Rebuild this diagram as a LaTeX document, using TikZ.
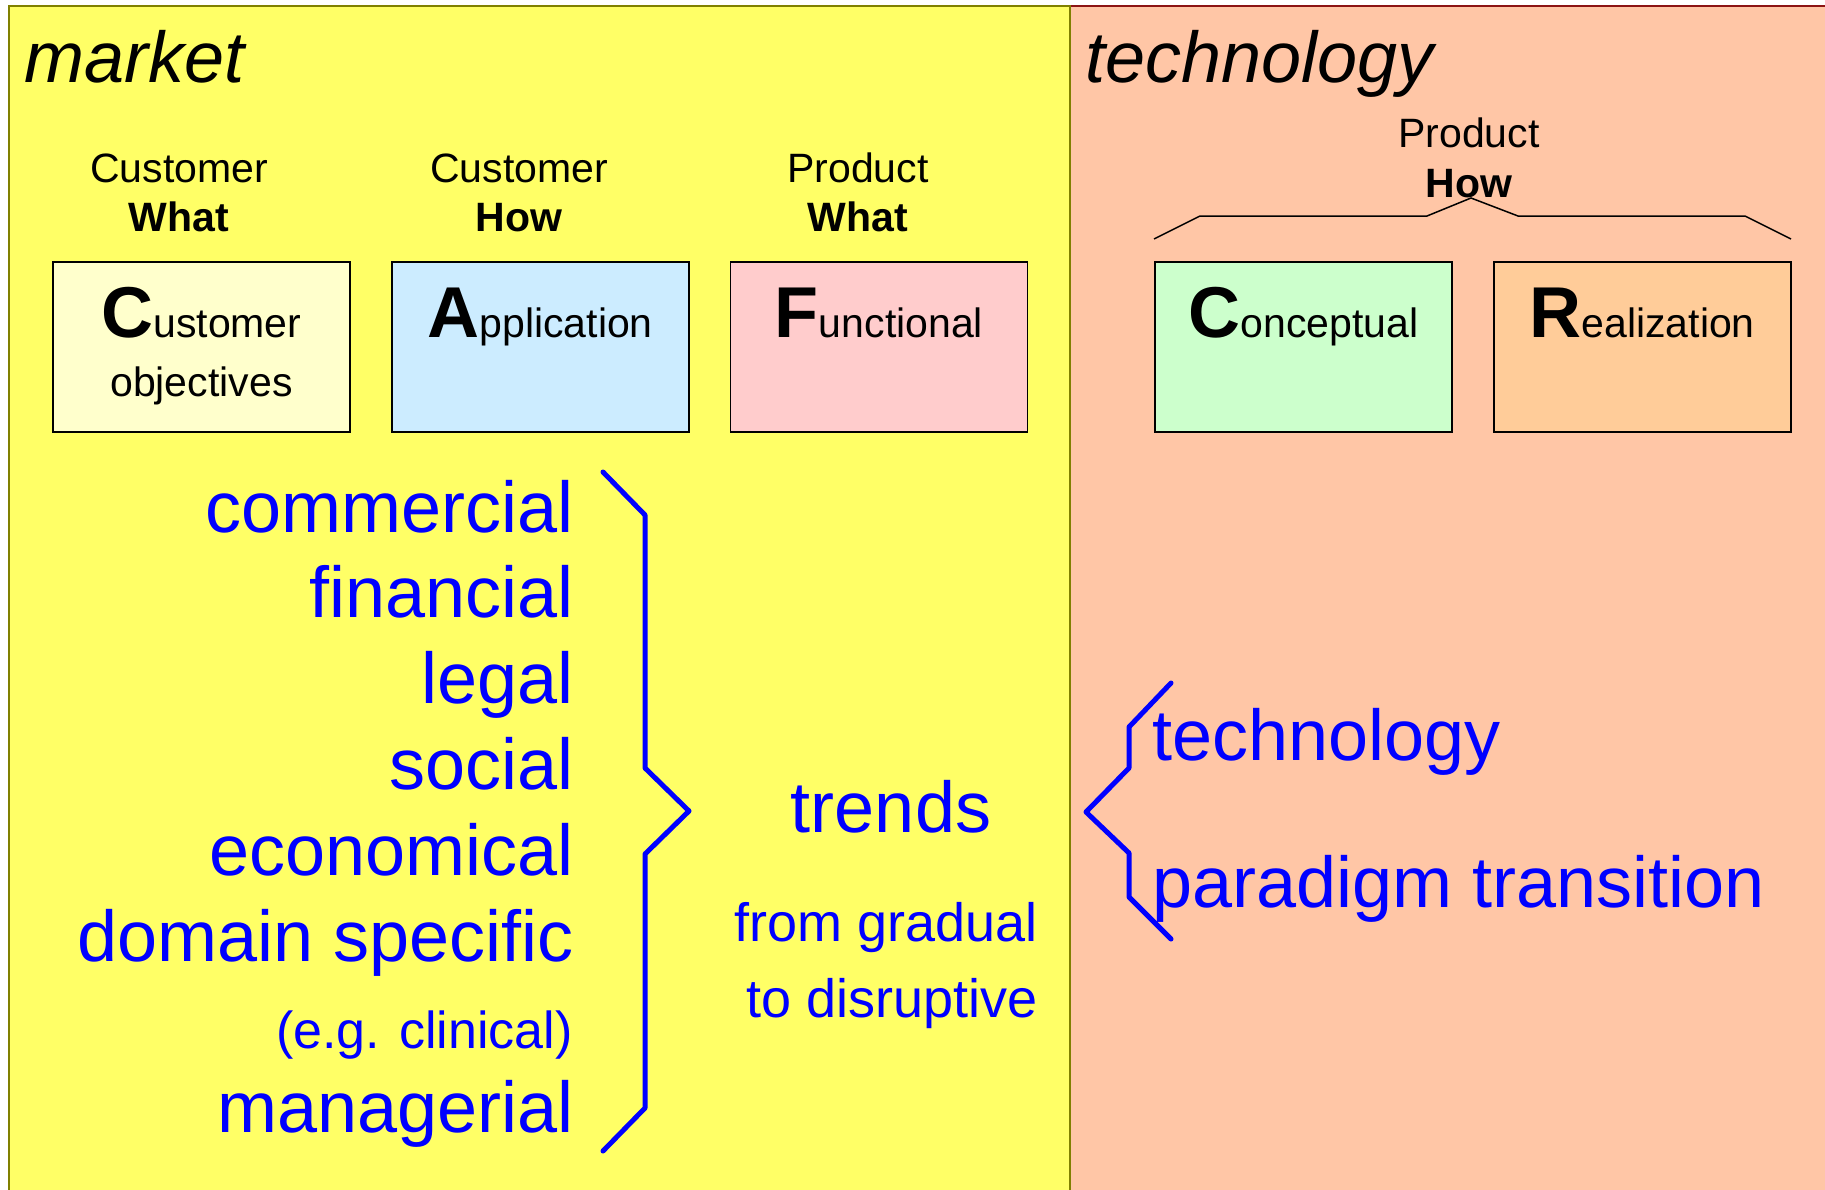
\documentclass[tikz,border=0pt]{standalone}
\usepackage{fontspec}
\setmainfont{Liberation Sans}
\usepackage{xcolor}
\usepackage{tikz}
\usetikzlibrary{positioning}

\definecolor{mktyellow}{RGB}{255,255,102}
\definecolor{techsalmon}{RGB}{255,198,166}
\definecolor{mktedge}{RGB}{128,128,0}
\definecolor{techedge}{RGB}{140,20,20}
\definecolor{custfill}{RGB}{255,255,204}
\definecolor{appfill}{RGB}{204,236,255}
\definecolor{funcfill}{RGB}{255,204,204}
\definecolor{concfill}{RGB}{204,255,204}
\definecolor{realfill}{RGB}{255,204,153}

\newcommand{\bigletter}[1]{{\fontsize{72}{72}\selectfont\bfseries #1}}

\begin{document}
\begin{tikzpicture}[x=1pt,y=-1pt,
  title/.style={font=\fontsize{72}{72}\selectfont\itshape,anchor=base west,inner sep=0pt},
  head/.style={font=\fontsize{41}{41}\selectfont,anchor=base,inner sep=0pt},
  viewbox/.style={draw,line width=1.8pt,minimum width=297pt,minimum height=170pt,anchor=north west,inner sep=0pt},
  boxtext/.style={font=\fontsize{41}{41}\selectfont,anchor=base,inner sep=0pt},
  factor/.style={font=\fontsize{72}{72}\selectfont,text=blue,anchor=base east,inner sep=0pt},
  note/.style={font=\fontsize{54}{54}\selectfont,text=blue,anchor=base east,inner sep=0pt},
  brace/.style={blue,line width=5pt,line cap=round,line join=round}]
\useasboundingbox (0,0) rectangle (1825,1189);
\draw[fill=techsalmon,draw=techedge,line width=2.5pt] (1070,6) rectangle (1835,1200);
\draw[fill=mktyellow,draw=mktedge,line width=2.5pt] (9,6) rectangle (1070,1200);

\node[title] (market) at (24,82) {market};
\node[title] (technology) at (1085,82) {technology};

\node[head] (cw1) at (179,182) {Customer};
\node[head] (cw2) at (179,231) {\textbf{What}};
\node[head] (ch1) at (519,182) {Customer};
\node[head] (ch2) at (519,231) {\textbf{How}};
\node[head] (pw1) at (858,182) {Product};
\node[head] (pw2) at (858,231) {\textbf{What}};
\node[head] (ph1) at (1469,147) {Product};
\node[head] (ph2) at (1469,197) {\textbf{How}};

\node[viewbox,fill=custfill] (cust) at (52,261) {};
\node[viewbox,fill=appfill,right=40pt of cust] (app) {};
\node[viewbox,fill=funcfill,right=40pt of app] (func) {};
\node[viewbox,fill=concfill] (conc) at (1154,261) {};
\node[viewbox,fill=realfill,right=40pt of conc] (real) {};

\node[boxtext] (custname) at ([yshift=-76pt]cust.north) {\bigletter{C}ustomer};
\node[boxtext] (custname2) at ([yshift=-135pt]cust.north) {objectives};
\node[boxtext] (appname) at ([yshift=-76pt]app.north) {\bigletter{A}pplication};
\node[boxtext] (funcname) at ([yshift=-76pt]func.north) {\bigletter{F}unctional};
\node[boxtext] (concname) at ([yshift=-76pt]conc.north) {\bigletter{C}onceptual};
\node[boxtext] (realname) at ([yshift=-76pt]real.north) {\bigletter{R}ealization};

\draw[line width=1.5pt] (1154,239) -- (1200,216) -- (1427,216) -- (1471,198) -- (1518,216) -- (1745,216) -- (1791,239);

\node[factor] (commercial) at (574,532) {commercial};
\node[factor] (financial) at (574,617) {financial};
\node[factor] (legal) at (574,703) {legal};
\node[factor] (social) at (574,789) {social};
\node[factor] (economical) at (574,875) {economical};
\node[factor] (domain) at (574,961) {domain specific};
\node[note,font=\fontsize{52}{52}\selectfont] (clinical) at (573,1048) {(e.g. clinical)};
\node[factor] (managerial) at (574,1132) {managerial};

\node[factor,anchor=base] (trends) at (891,832) {trends};
\node[note] (gradual) at (1038,941) {from gradual};
\node[note] (disruptive) at (1038,1017) {to disruptive};

\node[factor,anchor=base west] (techtrend) at (1152,760) {technology};
\node[factor,anchor=base west] (paradigm) at (1152,907) {paradigm transition};

\draw[brace] (603,472) -- (645,515) -- (645,768) -- (689,811) -- (645,854) -- (645,1108) -- (603,1151);
\draw[brace] (1171,683) -- (1129,727) -- (1129,768) -- (1086,812) -- (1129,853) -- (1129,897) -- (1171,939);
\end{tikzpicture}
\end{document}
